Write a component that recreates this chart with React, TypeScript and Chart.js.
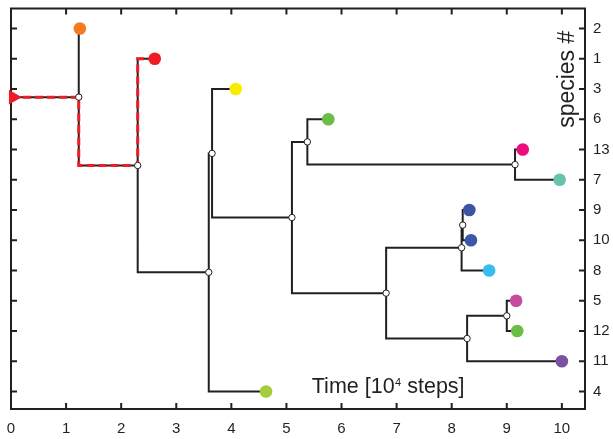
import React, { useEffect, useRef } from 'react';
import { Chart, registerables } from 'chart.js';

Chart.register(...registerables);

// ---- data ----
const speciesLabels = ['2', '1', '3', '6', '13', '7', '9', '10', '8', '5', '12', '11', '4'];
const leafTime = [1.25, 2.61, 4.08, 5.76, 9.29, 9.96, 8.32, 8.35, 8.68, 9.17, 9.19, 10.0, 4.63];
const leafParent = ['A', 'B', 'D', 'F', 'G', 'G', 'J', 'J', 'I', 'L', 'L', 'K', 'C'];
const leafColors = ['#F37A21', '#EE1D24', '#FAEC00', '#6ABD45', '#EC0C7B', '#66C4AC', '#3B54A4', '#3B58A8', '#35BEEE', '#C54B9E', '#6BBE45', '#7B51A1', '#A3CD3A'];

const nodeNames = ['A', 'B', 'C', 'D', 'E', 'F', 'G', 'H', 'I', 'J', 'K', 'L'];
const nodeTime = [1.23, 2.30, 3.59, 3.65, 5.10, 5.38, 9.15, 6.81, 8.18, 8.20, 8.28, 9.00];
const nodeRow = [2.27, 4.53, 8.06, 4.13, 6.25, 3.75, 4.5, 8.75, 7.25, 6.5, 10.25, 9.5];
const nodeParent = ['root', 'A', 'B', 'C', 'D', 'E', 'F', 'E', 'H', 'I', 'H', 'K'];

const rootTime = 0;
const rootMarkerTime = 0.04;
const ancestorPath = ['root', 'A', 'B', '1'];
const timeTicks = [0, 1, 2, 3, 4, 5, 6, 7, 8, 9, 10];
const timeMax = 10.42;
const rowMin = -0.66;
const rowMax = 12.58;

export default function App() {
  const ref = useRef<HTMLCanvasElement>(null);

  useEffect(() => {
    const ink = '#231F20';
    const family = '"Liberation Sans", Arial, Helvetica, sans-serif';
    const GAP = { x: NaN, y: NaN };

    const pos = (name: string): { x: number; y: number } => {
      if (name === 'root') {
        const a = nodeNames.indexOf('A');
        return { x: rootTime, y: nodeRow[a] };
      }
      const n = nodeNames.indexOf(name);
      if (n >= 0) return { x: nodeTime[n], y: nodeRow[n] };
      const s = speciesLabels.indexOf(name);
      return { x: leafTime[s], y: s };
    };
    const elbow = (parent: string, child: string) => {
      const p = pos(parent);
      const c = pos(child);
      if (parent === 'root') return [{ x: p.x, y: c.y }, { x: c.x, y: c.y }];
      return [{ x: p.x, y: p.y }, { x: p.x, y: c.y }, { x: c.x, y: c.y }];
    };

    const branchPts: any[] = [];
    nodeNames.forEach((n, i) => {
      branchPts.push(...elbow(nodeParent[i], n), { ...GAP });
    });
    speciesLabels.forEach((s, i) => {
      branchPts.push(...elbow(leafParent[i], s), { ...GAP });
    });

    const redPts: any[] = [];
    for (let i = 1; i < ancestorPath.length; i++) {
      const seg = elbow(ancestorPath[i - 1], ancestorPath[i]);
      if (i > 1) seg.shift();
      redPts.push(...seg);
    }

    const leafPts = speciesLabels.map((_, i) => ({ x: leafTime[i], y: i }));
    const nodePts = nodeNames.map((_, i) => ({ x: nodeTime[i], y: nodeRow[i] }));
    const rootPt = [{ x: rootMarkerTime, y: pos('root').y }];

    const framePlugin = {
      id: 'frame',
      beforeDatasetsDraw(chart: any) {
        const { ctx, chartArea: a, scales } = chart;
        const tl = 6;
        ctx.save();
        ctx.strokeStyle = ink;
        ctx.lineWidth = 2;
        ctx.beginPath();
        scales.x.ticks.forEach((t: any) => {
          const px = scales.x.getPixelForValue(t.value);
          ctx.moveTo(px, a.bottom);
          ctx.lineTo(px, a.bottom - tl);
          ctx.moveTo(px, a.top);
          ctx.lineTo(px, a.top + tl);
        });
        scales.y.ticks.forEach((t: any) => {
          const py = scales.y.getPixelForValue(t.value);
          ctx.moveTo(a.left, py);
          ctx.lineTo(a.left + tl, py);
          ctx.moveTo(a.right, py);
          ctx.lineTo(a.right - tl, py);
        });
        ctx.stroke();
        ctx.strokeRect(a.left, a.top, a.right - a.left, a.bottom - a.top);
        ctx.restore();
      },
      afterDraw(chart: any) {
        const { ctx, scales } = chart;
        ctx.save();
        ctx.fillStyle = ink;
        const x0 = scales.x.getPixelForValue(5.46);
        const base = scales.y.getPixelForValue(12) + 2;
        ctx.textBaseline = 'alphabetic';
        ctx.textAlign = 'left';
        ctx.font = `21.5px ${family}`;
        const p1 = 'Time [10';
        ctx.fillText(p1, x0, base);
        const w = ctx.measureText(p1).width;
        ctx.font = `11px ${family}`;
        ctx.fillText('4', x0 + w + 0.5, base - 7);
        const w4 = ctx.measureText('4').width;
        ctx.font = `21.5px ${family}`;
        ctx.fillText(' steps]', x0 + w + w4 + 0.5, base);
        const a = chart.chartArea;
        ctx.translate(a.right - 11, scales.y.getPixelForValue(1.68));
        ctx.rotate(-Math.PI / 2);
        ctx.textAlign = 'center';
        ctx.font = `23px ${family}`;
        ctx.fillText('species #', 0, 0);
        ctx.restore();
      },
    };

    const chart = new Chart(ref.current as HTMLCanvasElement, {
      type: 'scatter',
      data: {
        datasets: [
          {
            label: 'root',
            data: rootPt,
            pointStyle: 'triangle',
            rotation: 90,
            pointRadius: 8.5,
            pointBackgroundColor: '#EE1D24',
            pointBorderWidth: 0,
            borderColor: '#EE1D24',
            clip: false,
            order: 0,
          } as any,
          {
            label: 'species',
            data: leafPts,
            pointRadius: 6.3,
            pointBackgroundColor: leafColors,
            pointBorderWidth: 0,
            clip: false,
            order: 1,
          } as any,
          {
            label: 'nodes',
            data: nodePts,
            pointRadius: 3.2,
            pointBackgroundColor: '#FFFFFF',
            pointBorderColor: ink,
            pointBorderWidth: 1,
            clip: false,
            order: 2,
          } as any,
          {
            label: 'ancestor',
            data: redPts,
            showLine: true,
            borderColor: '#EE1D24',
            borderWidth: 3,
            borderDash: [8, 4],
            pointRadius: 0,
            tension: 0,
            clip: false,
            order: 3,
          } as any,
          {
            label: 'branches',
            data: branchPts,
            showLine: true,
            spanGaps: false,
            borderColor: ink,
            borderWidth: 2,
            pointRadius: 0,
            tension: 0,
            clip: false,
            order: 4,
          } as any,
        ],
      },
      options: {
        animation: false,
        responsive: false,
        maintainAspectRatio: false,
        layout: { padding: { left: 11, top: 7, right: 0, bottom: 0 } },
        plugins: { legend: { display: false }, tooltip: { enabled: false } },
        scales: {
          x: {
            type: 'linear',
            position: 'bottom',
            min: 0,
            max: timeMax,
            grid: { display: false, drawTicks: false },
            border: { display: false },
            afterBuildTicks: (s: any) => {
              s.ticks = timeTicks.map((v) => ({ value: v }));
            },
            afterFit: (s: any) => {
              s.height = 30;
              s.paddingLeft = 0;
              s.paddingRight = 0;
            },
            ticks: {
              autoSkip: false,
              maxRotation: 0,
              padding: 11,
              color: ink,
              font: { family, size: 15 },
              callback: (v: any) => String(v),
            },
          },
          y: {
            type: 'linear',
            position: 'right',
            reverse: true,
            min: rowMin,
            max: rowMax,
            grid: { display: false, drawTicks: false },
            border: { display: false },
            afterBuildTicks: (s: any) => {
              s.ticks = speciesLabels.map((_, i) => ({ value: i }));
            },
            afterFit: (s: any) => {
              s.width = 28;
              s.paddingTop = 0;
              s.paddingBottom = 0;
            },
            ticks: {
              autoSkip: false,
              padding: 8,
              color: ink,
              font: { family, size: 15 },
              callback: (v: any) => speciesLabels[v as number] ?? '',
            },
          },
        },
      },
      plugins: [framePlugin],
    });
    return () => chart.destroy();
  }, []);

  return (
    <div style={{ position: 'fixed', left: 0, top: 0, width: 613, height: 439, background: '#fff' }}>
      <canvas ref={ref} width={613} height={439} style={{ width: 613, height: 439, display: 'block' }} />
    </div>
  );
}
